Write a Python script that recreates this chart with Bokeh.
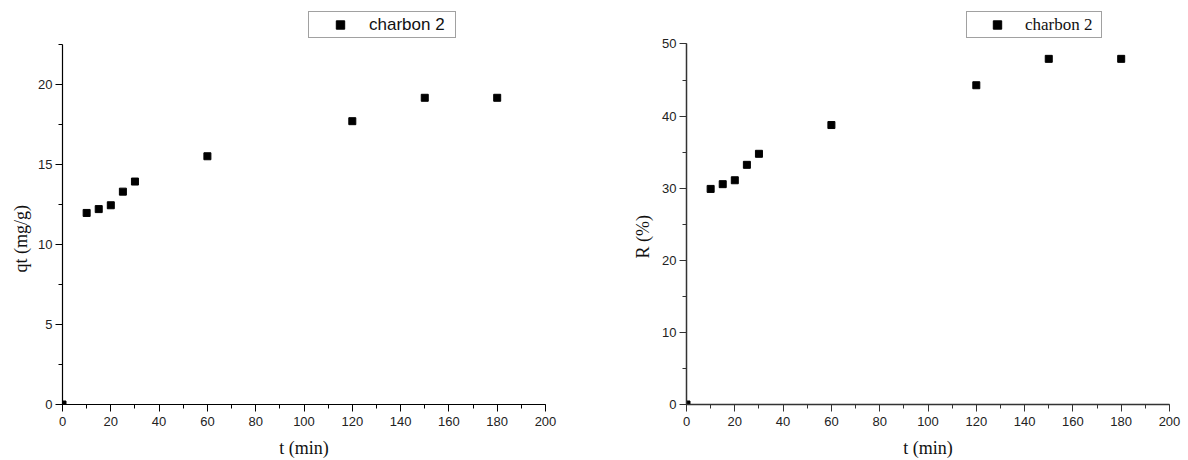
from bokeh.plotting import figure
from bokeh.layouts import row
from bokeh.models import (Range1d, SingleIntervalTicker, Legend, LegendItem, Title)
from bokeh.embed import file_html
from bokeh.resources import INLINE

# ---- data ----
t_min = [0, 10, 15, 20, 25, 30, 60, 120, 150, 180]
qt_values = [0, 11.96, 12.2, 12.44, 13.29, 13.92, 15.5, 17.69, 19.15, 19.15]
r_values = [0, 29.9, 30.56, 31.1, 33.24, 34.77, 38.76, 44.28, 47.94, 47.94]
series_name = "charbon 2"
x_label = "t (min)"
left_ylabel = "qt (mg/g)"
right_ylabel = "R (%)"

SANS = "Liberation Sans"
SERIF = "Liberation Serif"


def make_fig(width, border_left, border_right, y_top, y_bound, y_interval,
             y_values, ylabel, title_standoff, title_offset, legend_font,
             legend_x, glyph_w, label_w, axis_color, axis_width):
    p = figure(width=width, height=460, output_backend="svg", toolbar_location=None,
               x_range=Range1d(0, 200), y_range=Range1d(0, y_top),
               min_border_left=border_left, min_border_right=border_right,
               min_border_top=6, min_border_bottom=56)
    p.outline_line_color = None
    p.xgrid.visible = False
    p.ygrid.visible = False
    p.background_fill_color = "white"
    p.border_fill_color = "white"

    p.xaxis.ticker = SingleIntervalTicker(interval=20, num_minor_ticks=2)
    p.yaxis.ticker = SingleIntervalTicker(interval=y_interval, num_minor_ticks=2)
    p.yaxis.bounds = (0, y_bound)
    p.xaxis.bounds = (0, 200)
    for ax in (p.xaxis, p.yaxis):
        ax.axis_line_color = axis_color
        ax.axis_line_width = axis_width
        ax.major_tick_line_color = axis_color
        ax.minor_tick_line_color = axis_color
        ax.major_tick_line_width = 1
        ax.minor_tick_line_width = 1
        ax.major_tick_in = 0
        ax.major_tick_out = 7
        ax.minor_tick_in = 0
        ax.minor_tick_out = 4
        ax.major_label_text_font = SANS
        ax.major_label_text_font_size = "13px"
        ax.major_label_text_color = "#222222"
    p.xaxis.major_label_standoff = 5
    p.yaxis.major_label_standoff = 3

    p.xaxis.axis_label = x_label
    p.xaxis.axis_label_text_font = SERIF
    p.xaxis.axis_label_text_font_style = "normal"
    p.xaxis.axis_label_text_font_size = "18px"
    p.xaxis.axis_label_text_color = "#111111"
    p.xaxis.axis_label_standoff = 9

    # y title, placed lower than the frame centre as in the reference
    p.add_layout(Title(text=ylabel, align="left", offset=title_offset,
                       standoff=title_standoff, text_font=SERIF,
                       text_font_style="normal", text_font_size="18px",
                       text_color="#111111"), "left")

    r = p.scatter(t_min, y_values, marker="square", size=7,
                  fill_color="black", line_color="black")

    legend = Legend(items=[LegendItem(label=series_name, renderers=[r])],
                    location=(legend_x, 366), margin=0, padding=2, spacing=0,
                    glyph_width=glyph_w, glyph_height=21, label_width=label_w,
                    label_height=18, label_standoff=0,
                    label_text_font=legend_font, label_text_font_size="17px",
                    label_text_color="#111111",
                    border_line_color="#444444", border_line_width=1,
                    background_fill_color="white", background_fill_alpha=1)
    p.add_layout(legend)
    return p


p1 = make_fig(598, 62, 53, 24.85, 22.5, 5, qt_values, left_ylabel, 10, 132,
              SANS, 246, 58, 84, "black", 1.2)
p2 = make_fig(590, 88, 19, 55.2, 50, 10, r_values, right_ylabel, 14, 146,
              SERIF, 280, 56, 74, "#333333", 1.5)

layout = row(p1, p2, spacing=0)
open("out.html", "w").write(file_html(layout, INLINE))
